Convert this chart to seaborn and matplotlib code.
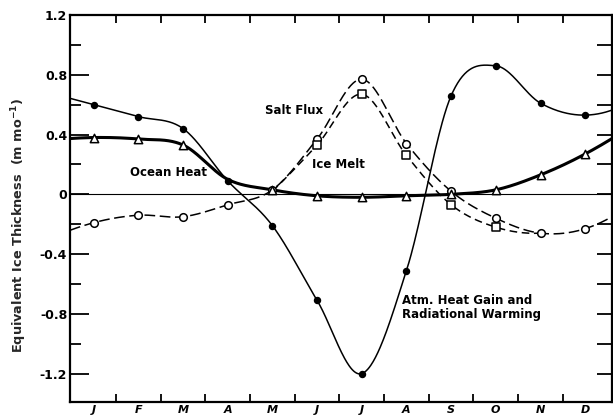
import numpy as np
import pandas as pd
import matplotlib
matplotlib.use("Agg")
import matplotlib.pyplot as plt
import seaborn as sns

# Monthly values (m of equivalent ice per month), one per month at mid-month
months = ["J", "F", "M", "A", "M", "J", "J", "A", "S", "O", "N", "D"]
atm_heat = [0.60, 0.52, 0.44, 0.09, -0.21, -0.71, -1.20, -0.51, 0.66, 0.86, 0.61, 0.53]
ocean_heat = [0.38, 0.37, 0.33, 0.10, 0.03, -0.01, -0.02, -0.01, 0.00, 0.03, 0.13, 0.27]
salt_flux = [-0.19, -0.14, -0.15, -0.07, 0.03, 0.37, 0.77, 0.34, 0.02, -0.16, -0.26, -0.23]
# Ice melt is only defined from May to November
ice_melt = [None, None, None, None, 0.02, 0.33, 0.67, 0.26, -0.07, -0.22, -0.26, None]

y_ticks = [1.2, 0.8, 0.4, 0.0, -0.4, -0.8, -1.2]
y_tick_labels = ["1.2", "0.8", "0.4", "0", "-0.4", "-0.8", "-1.2"]


def hermite_curve(xk, yk, xs):
    """Catmull-Rom style cubic Hermite curve through (xk, yk).

    End tangents come from a parabola through the three outermost points,
    and the end segments are extended to reach the axes edges."""
    xk = np.asarray(xk, float)
    yk = np.asarray(yk, float)
    n = len(xk)
    delta = np.diff(yk) / np.diff(xk)
    m = np.zeros(n)
    m[1:-1] = (delta[:-1] + delta[1:]) / 2
    m[0] = delta[0] - (delta[1] - delta[0]) / 2
    m[-1] = delta[-1] + (delta[-1] - delta[-2]) / 2
    idx = np.clip(np.searchsorted(xk, xs) - 1, 0, n - 2)
    h = xk[idx + 1] - xk[idx]
    t = (xs - xk[idx]) / h
    h00 = 2 * t ** 3 - 3 * t ** 2 + 1
    h10 = t ** 3 - 2 * t ** 2 + t
    h01 = -2 * t ** 3 + 3 * t ** 2
    h11 = t ** 3 - t ** 2
    return (h00 * yk[idx] + h10 * h * m[idx] + h01 * yk[idx + 1] + h11 * h * m[idx + 1])


sns.set_theme(style="white")
plt.rcParams["font.family"] = ["DejaVu Sans"]
plt.rcParams["axes.unicode_minus"] = False

fig = plt.figure(figsize=(6.13, 4.19), dpi=100)
ax = fig.add_axes([70 / 613, 1 - 402 / 419, 542 / 613, 387 / 419])

x_mid = np.arange(12) + 0.5
x0, x1 = -0.03, 12.1


def series_frame(values):
    pts = [(x, v) for x, v in zip(x_mid, values) if v is not None]
    return pd.DataFrame(pts, columns=["month", "value"])


def draw_curve(values, xs, **kw):
    df = series_frame(values)
    ys = hermite_curve(df["month"].values, df["value"].values, xs)
    sns.lineplot(x=xs, y=ys, ax=ax, color="black", sort=False, **kw)
    return df


def draw_markers(df, marker, size, filled, rows=None):
    if rows is not None:
        df = df.iloc[rows]
    sns.scatterplot(data=df, x="month", y="value", ax=ax, marker=marker, s=size,
                    color="black" if filled else "white", edgecolor="black",
                    linewidth=1.1, zorder=5)


ax.axhline(0, color="black", lw=0.8, zorder=1)

full_x = np.linspace(x0, x1, 700)

df_atm = draw_curve(atm_heat, full_x, lw=1.1)
df_ocean = draw_curve(ocean_heat, full_x, lw=2.2)
df_salt = draw_curve(salt_flux, full_x, lw=1.1)
ax.lines[-1].set_dashes((7, 3))
melt_x = np.linspace(4.5, 10.5, 300)
df_melt = draw_curve(ice_melt, melt_x, lw=1.1)
ax.lines[-1].set_dashes((5, 3))

draw_markers(df_salt, "o", 30, False)
draw_markers(df_melt, "s", 28, False, rows=[1, 2, 3, 4, 5])
draw_markers(df_ocean, "^", 36, False, rows=[0, 1, 2, 4, 5, 6, 7, 8, 9, 10, 11])
draw_markers(df_atm, "o", 18, True)

ax.set_xlim(x0, x1)
ax.set_ylim(-1.39, 1.2)

# Month boundaries as inward ticks; month names centred between them
ax.set_xticks(np.arange(1, 12))
ax.set_xticklabels([])
ax.set_xticks(x_mid, minor=True)
ax.set_xticklabels(months, minor=True, fontsize=8, fontweight="bold", fontstyle="italic")
ax.tick_params(axis="x", which="major", direction="in", length=6, width=1.3,
               top=True, bottom=True, color="black")
ax.tick_params(axis="x", which="minor", length=0, pad=2, labelcolor="black")

ax.set_yticks(y_ticks)
ax.set_yticklabels(y_tick_labels, fontsize=9, fontweight="bold")
ax.set_yticks(np.arange(-1.2, 1.21, 0.2), minor=True)
ax.tick_params(axis="y", which="major", direction="in", length=14, width=1.3,
               left=True, right=False, pad=2, labelcolor="black", color="black")
ax.tick_params(axis="y", which="minor", direction="in", length=8, width=1.3,
               left=True, right=False, color="black")

sec = ax.secondary_yaxis("right")
sec.set_yticks(np.arange(-1.2, 1.01, 0.2))
sec.tick_params(axis="y", direction="in", length=11, width=1.3, labelright=False,
                color="black")
sec.spines["right"].set_visible(False)

for side in ["left", "right", "top", "bottom"]:
    ax.spines[side].set_visible(True)
    ax.spines[side].set_color("black")
    ax.spines[side].set_linewidth(1.6)

ax.set_xlabel("")
ax.set_ylabel("")
fig.text(19 / 613, 1 - 225 / 419, "Equivalent Ice Thickness  (m mo$^{\\mathbf{-1}}$)",
         rotation=90, ha="center", va="center", fontsize=9.3, fontweight="bold")

label_kw = dict(fontsize=8.5, fontweight="bold", color="black")
ax.text(4.33, 0.563, "Salt Flux", ha="left", va="center", **label_kw)
ax.text(5.38, 0.20, "Ice Melt", ha="left", va="center", **label_kw)
ax.text(1.31, 0.147, "Ocean Heat", ha="left", va="center", **label_kw)
ax.text(7.40, -0.757, "Atm. Heat Gain and\nRadiational Warming", ha="left", va="center",
        linespacing=1.12, **label_kw)

fig.savefig("out.png", dpi=100)
